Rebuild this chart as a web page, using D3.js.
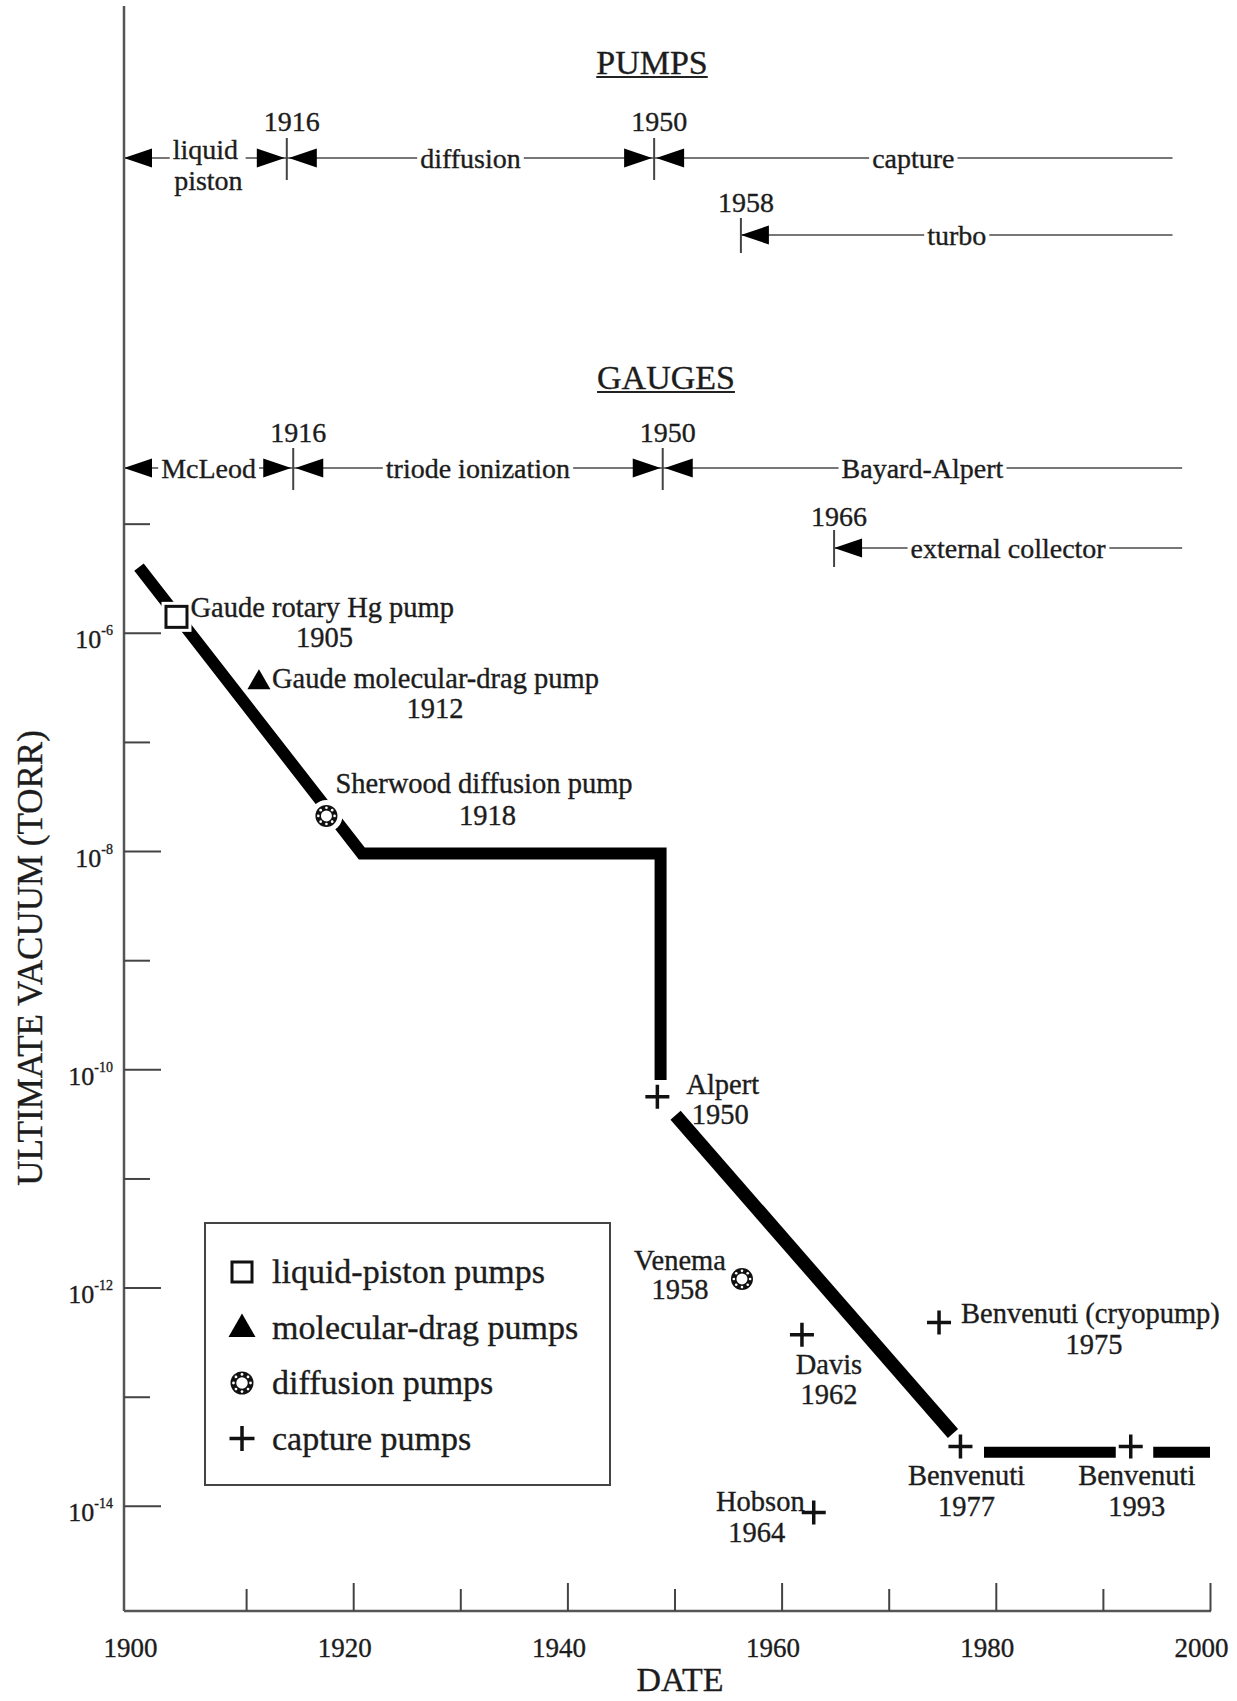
<!DOCTYPE html>
<html>
<head>
<meta charset="utf-8">
<title>Ultimate vacuum</title>
<script src="https://cdn.jsdelivr.net/npm/d3@7"></script>
<style>
  body { margin: 0; background: #fff; }
  text { font-family: "Liberation Serif", "Times New Roman", serif; fill: #1c1c1c; stroke: #1c1c1c; stroke-width: 0.35px; }
</style>
</head>
<body>
<div id="chart"></div>
<script>
// axes
var yearTicks = [1900, 1920, 1940, 1960, 1980, 2000];
var minorYearTicks = [1910, 1930, 1950, 1970, 1990];
var labelExps = [-6, -8, -10, -12, -14];
var minorExps = [-5, -7, -9, -11, -13];

// best vacuum reached, [year, torr]
var trendEarly = [[1900, 4.0e-6], [1920.8, 9.5e-9], [1948.7, 9.5e-9], [1948.7, 8e-11]];
var trendLate = [[1950.1, 3.8e-11], [1976.0, 4.6e-14]];
var trendFlat1 = [[1978.9, 3.1e-14], [1991.2, 3.1e-14]];
var trendFlat2 = [[1994.7, 3.1e-14], [2000, 3.1e-14]];

// individual results
var pointNames = ["Gaude rotary Hg pump", "Gaude molecular-drag pump", "Sherwood diffusion pump",
  "Alpert", "Venema", "Davis", "Hobson", "Benvenuti (cryopump)", "Benvenuti", "Benvenuti"];
var pointDates = ["1905", "1912", "1918", "1950", "1958", "1962", "1964", "1975", "1977", "1993"];
var pointYears = [1903.5, 1911.2, 1917.5, 1948.4, 1956.3, 1961.9, 1963.0, 1974.7, 1976.7, 1992.6];
var pointTorr = [1.4e-6, 3.6e-7, 2.1e-8, 5.6e-11, 1.2e-12, 3.7e-13, 8.7e-15, 4.8e-13, 3.5e-14, 3.5e-14];
var pointKinds = ["liquid", "drag", "diffusion", "capture", "diffusion", "capture", "capture", "capture", "capture", "capture"];

var legendKinds = ["liquid", "drag", "diffusion", "capture"];
var legendNames = ["liquid-piston pumps", "molecular-drag pumps", "diffusion pumps", "capture pumps"];

// pump and gauge eras
var pumpEras = [["liquid", "piston"], ["diffusion"], ["capture"]];
var pumpBreakYears = [1913.8, 1948.1];
var pumpBreakLabels = ["1916", "1950"];
var pumpEndYear = 1996.5;
var turboEra = [["turbo"]];
var turboStartYear = 1956.2;
var turboLabel = "1958";

var gaugeEras = [["McLeod"], ["triode ionization"], ["Bayard-Alpert"]];
var gaugeBreakYears = [1914.4, 1948.9];
var gaugeBreakLabels = ["1916", "1950"];
var gaugeEndYear = 1997.4;
var extEra = [["external collector"]];
var extStartYear = 1964.9;
var extLabel = "1966";

// where the two text lines of each point sit, relative to its marker
var labelPlace = [
  {a1: 'start', dx1: 14, dy1: 0, dx2: 148, dy2: 30},
  {a1: 'start', dx1: 13, dy1: 7, dx2: 176, dy2: 37},
  {a1: 'start', dx1: 9, dy1: -23, dx2: 161, dy2: 9},
  {a1: 'start', dx1: 29, dy1: -3, dx2: 63, dy2: 27},
  {a1: 'middle', dx1: -62, dy1: -9, dx2: -62, dy2: 20},
  {a1: 'middle', dx1: 27, dy1: 39, dx2: 27, dy2: 69},
  {a1: 'end', dx1: -9, dy1: -1, dx2: -57, dy2: 30},
  {a1: 'start', dx1: 22, dy1: 1, dx2: 155, dy2: 32},
  {a1: 'middle', dx1: 6, dy1: 39, dx2: 6, dy2: 70},
  {a1: 'middle', dx1: 6, dy1: 39, dx2: 6, dy2: 70}
];

var width = 1237, height = 1701;
var axisX = 124, axisY = 1611;
var x = d3.scaleLinear().domain([1900, 2000]).range([139, 1210]);
var y = d3.scaleLog().domain([1e-15, 1]).range([1615, -22]);

var svg = d3.select('#chart').append('svg')
  .attr('width', width).attr('height', height);

// ---- axes ----
svg.append('line').attr('x1', axisX).attr('x2', axisX).attr('y1', 6).attr('y2', axisY)
  .attr('stroke', '#555').attr('stroke-width', 2.5);
svg.append('line').attr('x1', axisX).attr('x2', x(2000) + 1).attr('y1', axisY).attr('y2', axisY)
  .attr('stroke', '#555').attr('stroke-width', 2.5);

function cleanAxis(g) {
  g.select('.domain').remove();
  g.attr('font-family', null);
  g.selectAll('.tick line').attr('stroke', '#444').attr('stroke-width', 2);
}

var yMajor = svg.append('g')
  .attr('transform', 'translate(' + axisX + ',0)')
  .call(d3.axisLeft(y).tickValues(labelExps.map(function(e) { return Math.pow(10, e); }))
    .tickSizeInner(-37).tickSizeOuter(0).tickFormat(''))
  .call(cleanAxis);

yMajor.selectAll('.tick text').each(function(d) {
  var t = d3.select(this).text(null)
    .attr('x', -11).attr('dy', null).attr('y', 15)
    .attr('text-anchor', 'end').attr('font-size', 26);
  t.append('tspan').text('10');
  t.append('tspan').attr('font-size', 14).attr('dy', -13)
    .text('-' + Math.round(-Math.log10(d)));
});

svg.append('g')
  .attr('transform', 'translate(' + axisX + ',0)')
  .call(d3.axisLeft(y).tickValues(minorExps.map(function(e) { return Math.pow(10, e); }))
    .tickSizeInner(-26).tickSizeOuter(0).tickFormat(''))
  .call(cleanAxis);

var xMajor = svg.append('g')
  .attr('transform', 'translate(0,' + axisY + ')')
  .call(d3.axisBottom(x).tickValues(yearTicks).tickSizeInner(-28).tickSizeOuter(0)
    .tickFormat(function(d) { return d; }))
  .call(cleanAxis);
xMajor.attr('font-size', 27);
xMajor.selectAll('.tick text').attr('y', 46).attr('dy', 0).attr('dx', -9);
// the 1900 tick sits on the vertical axis
xMajor.selectAll('.tick line').filter(function(d) { return d == 1900; }).remove();

svg.append('g')
  .attr('transform', 'translate(0,' + axisY + ')')
  .call(d3.axisBottom(x).tickValues(minorYearTicks).tickSizeInner(-22).tickSizeOuter(0).tickFormat(''))
  .call(cleanAxis);

svg.append('text').attr('x', 680).attr('y', 1691).attr('text-anchor', 'middle')
  .attr('font-size', 34).text('DATE');
svg.append('text').attr('transform', 'translate(42,958) rotate(-90)')
  .attr('text-anchor', 'middle').attr('font-size', 35).text('ULTIMATE VACUUM (TORR)');

// ---- trend line ----
var line = d3.line().x(function(d) { return x(d[0]); }).y(function(d) { return y(d[1]); });
[trendEarly, trendLate, trendFlat1, trendFlat2].forEach(function(seg, i) {
  svg.append('path').datum(seg).attr('d', line)
    .attr('fill', 'none').attr('stroke', '#000')
    .attr('stroke-width', i == 0 ? 12 : (i == 1 ? 13.5 : 11))
    .attr('stroke-linejoin', 'miter');
});

// ---- markers ----
function marker(g, kind, s, halo) {
  if (kind === 'liquid') {
    if (halo) g.append('rect').attr('x', -s/2).attr('y', -s/2).attr('width', s).attr('height', s)
      .attr('fill', '#fff').attr('stroke', '#fff').attr('stroke-width', 9);
    g.append('rect').attr('x', -s/2).attr('y', -s/2).attr('width', s).attr('height', s)
      .attr('fill', '#fff').attr('stroke', '#111').attr('stroke-width', 3);
  } else if (kind === 'drag') {
    var h = s * 0.87;
    g.append('path').attr('d', 'M0,' + (-h * 0.6) + 'L' + (s/2) + ',' + (h * 0.4) + 'L' + (-s/2) + ',' + (h * 0.4) + 'Z')
      .attr('fill', '#000');
  } else if (kind === 'diffusion') {
    var r = s / 2;
    if (halo) g.append('circle').attr('r', r + 5).attr('fill', '#fff');
    g.append('circle').attr('r', r).attr('fill', '#111');
    g.append('circle').attr('r', r * 0.5).attr('fill', '#fff');
    d3.range(8).forEach(function(k) {
      var a = k * Math.PI / 4;
      g.append('circle').attr('cx', Math.cos(a) * r * 0.74).attr('cy', Math.sin(a) * r * 0.74)
        .attr('r', r * 0.12).attr('fill', '#fff');
    });
  } else {
    var c = s / 2;
    g.append('path').attr('d', 'M' + (-c) + ',0H' + c + 'M0,' + (-c) + 'V' + c)
      .attr('stroke', '#111').attr('stroke-width', 3.5).attr('fill', 'none');
  }
}

var markerSize = {liquid: 21, drag: 23, diffusion: 22, capture: 24};

pointNames.forEach(function(name, i) {
  var px = x(pointYears[i]), py = y(pointTorr[i]);
  var g = svg.append('g').attr('transform', 'translate(' + px + ',' + py + ')');
  marker(g, pointKinds[i], markerSize[pointKinds[i]], true);
  var p = labelPlace[i];
  svg.append('text').attr('x', px + p.dx1).attr('y', py + p.dy1)
    .attr('text-anchor', p.a1).attr('font-size', 28.5).text(name);
  svg.append('text').attr('x', px + p.dx2).attr('y', py + p.dy2)
    .attr('text-anchor', 'middle').attr('font-size', 28.5).text(pointDates[i]);
});

// ---- legend ----
var legend = svg.append('g');
legend.append('rect').attr('x', 205).attr('y', 1223).attr('width', 405).attr('height', 262)
  .attr('fill', 'none').attr('stroke', '#444').attr('stroke-width', 2);
var legendSize = {liquid: 20, drag: 27, diffusion: 23, capture: 25};
legendKinds.forEach(function(k, i) {
  var ry = 1272 + i * 55.5;
  var g = legend.append('g').attr('transform', 'translate(242,' + ry + ')');
  marker(g, k, legendSize[k], false);
  legend.append('text').attr('x', 272).attr('y', ry + 11).attr('font-size', 34).text(legendNames[i]);
});

// ---- eras ----
function arrowHead(g, tipX, rowY, dir) {
  g.append('path')
    .attr('d', 'M' + tipX + ',' + rowY + 'L' + (tipX - dir * 28) + ',' + (rowY - 9.5) +
      'L' + (tipX - dir * 28) + ',' + (rowY + 9.5) + 'Z')
    .attr('fill', '#000');
}

function drawTimeline(rowY, edges, eras, markXs, markLabels, labelY, tickTop, tickBottom) {
  var g = svg.append('g');
  g.append('line').attr('x1', edges[0]).attr('x2', edges[edges.length - 1])
    .attr('y1', rowY).attr('y2', rowY).attr('stroke', '#777').attr('stroke-width', 2);

  eras.forEach(function(lines, i) {
    var mid = (edges[i] + edges[i + 1]) / 2;
    var t = g.append('text').attr('text-anchor', 'middle').attr('font-size', 28);
    if (lines.length == 2) {
      t.append('tspan').attr('x', mid).attr('y', rowY + 1).text(lines[0]);
      t.append('tspan').attr('x', mid + 3).attr('y', rowY + 32).text(lines[1]);
    } else {
      t.attr('x', mid).attr('y', rowY + 10).text(lines[0]);
    }
    var b = t.node().getBBox();
    g.insert('rect', 'text').attr('x', b.x - 3).attr('y', b.y).attr('width', b.width + 6)
      .attr('height', b.height).attr('fill', '#fff');
  });

  for (var i = 0; i < edges.length - 1; i++) {
    arrowHead(g, edges[i] + (i == 0 ? 0 : 2), rowY, -1);
    if (i + 1 < edges.length - 1) arrowHead(g, edges[i + 1] - 2, rowY, 1);
  }

  markXs.forEach(function(mx, i) {
    g.append('line').attr('x1', mx).attr('x2', mx).attr('y1', rowY - tickTop).attr('y2', rowY + tickBottom)
      .attr('stroke', '#444').attr('stroke-width', 2);
    g.append('text').attr('x', mx + 5).attr('y', labelY).attr('text-anchor', 'middle')
      .attr('font-size', 28).text(markLabels[i]);
  });
}

function heading(txt, cx, base) {
  var t = svg.append('text').attr('x', cx).attr('y', base).attr('text-anchor', 'middle')
    .attr('font-size', 34).text(txt);
  var w = t.node().getComputedTextLength();
  svg.append('line').attr('x1', cx - w / 2).attr('x2', cx + w / 2).attr('y1', base + 3).attr('y2', base + 3)
    .attr('stroke', '#222').attr('stroke-width', 2);
}

heading('PUMPS', 652, 74);
heading('GAUGES', 666, 389);

var pumpEdges = [axisX].concat(pumpBreakYears.map(x), [x(pumpEndYear)]);
drawTimeline(158, pumpEdges, pumpEras, pumpBreakYears.map(x), pumpBreakLabels, 131, 20, 22);
drawTimeline(235, [x(turboStartYear), x(pumpEndYear)], turboEra, [x(turboStartYear)], [turboLabel], 212, 17, 18);

var gaugeEdges = [axisX].concat(gaugeBreakYears.map(x), [x(gaugeEndYear)]);
drawTimeline(468, gaugeEdges, gaugeEras, gaugeBreakYears.map(x), gaugeBreakLabels, 442, 20, 22);
drawTimeline(548, [x(extStartYear), x(gaugeEndYear)], extEra, [x(extStartYear)], [extLabel], 526, 18, 19);
</script>
</body>
</html>
